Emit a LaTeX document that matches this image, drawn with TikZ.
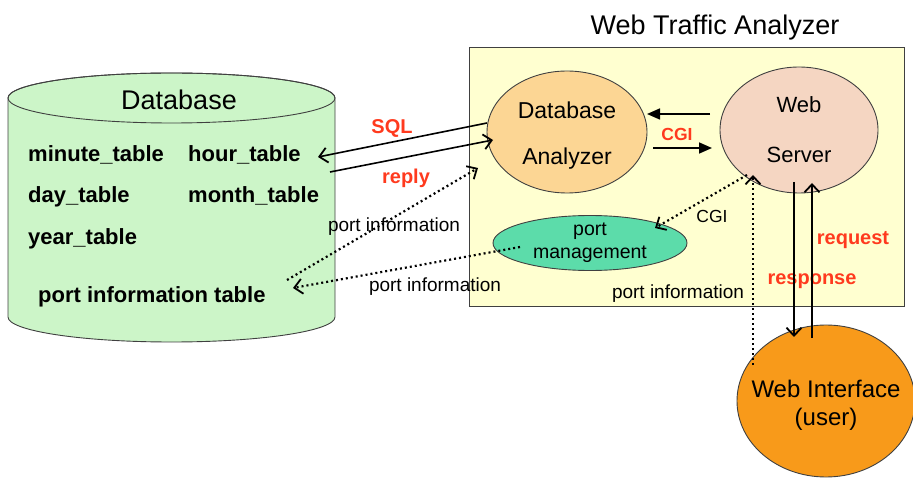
\documentclass[tikz,border=0pt]{standalone}
\usepackage{fontspec}
\setmainfont{Liberation Sans}
\usetikzlibrary{shapes.geometric,arrows.meta}
\definecolor{boxyellow}{RGB}{255,255,208}
\definecolor{dbgreen}{RGB}{204,245,200}
\definecolor{anaorange}{RGB}{252,214,148}
\definecolor{srvpeach}{RGB}{245,214,194}
\definecolor{pmgreen}{RGB}{92,220,170}
\definecolor{uiorange}{RGB}{248,154,26}
\definecolor{lblred}{RGB}{255,58,30}
\newcommand\fsz[2]{\fontsize{#1pt}{#2pt}\selectfont}

\begin{document}
\begin{tikzpicture}[x=1pt,y=-1pt,
  outline/.style={draw=black!75, line width=0.9pt},
  blob/.style={ellipse, outline, inner sep=0},
  txt/.style={inner sep=0, align=center},
  link/.style={line width=1.6pt, draw=black},
  dots/.style={line width=2.2pt, draw=black, dash pattern=on 2pt off 3pt},
  openhead/.style={-{Straight Barb[length=8pt,width=15pt,line width=1.8pt]}},
  fillhead/.style={-{Triangle[length=13pt,width=11pt]}},
  tbl/.style={anchor=base west, inner sep=0, font=\bfseries\fsz{22}{26}},
  redlbl/.style={anchor=base, inner sep=0, text=lblred, font=\bfseries\fsz{20}{24}},
  plbl/.style={anchor=base, inner sep=0, font=\fsz{19}{22}},
]
\useasboundingbox (0,0) rectangle (913,478);

% enclosing analyzer box and its title
\node[draw=black!75, line width=1pt, fill=boxyellow, minimum width=435pt,
      minimum height=259pt, anchor=north west, inner sep=0] (wta) at (469,47) {};
\node[anchor=base, inner sep=0, font=\fsz{27}{32}] (title) at (715,35) {Web Traffic Analyzer};

% database cylinder
\path[outline, fill=dbgreen] (8,98) -- (8,317)
  arc[start angle=180, end angle=360, x radius=163.5pt, y radius=25pt]
  -- (335,98)
  arc[start angle=0, end angle=180, x radius=163.5pt, y radius=25pt] -- cycle;
\draw[outline] (171.5,98) ellipse[x radius=163.5pt, y radius=25pt];
\node[anchor=base, inner sep=0, font=\fsz{27}{32}] (dbtitle) at (179,110) {Database};
\node[tbl] (minute) at (28,162) {minute\_table};
\node[tbl] (hour)   at (188,162) {hour\_table};
\node[tbl] (day)    at (28,203) {day\_table};
\node[tbl] (month)  at (188,203) {month\_table};
\node[tbl] (year)   at (28,245) {year\_table};
\node[tbl] (portinfo) at (38,303) {port information table};

% components
\node[blob, fill=anaorange, minimum width=160pt, minimum height=122pt] (ana) at (567,132) {};
\node[txt, font=\fsz{23}{46}] (anatext) at (567,136) {Database\\Analyzer};
\node[blob, fill=srvpeach, minimum width=158pt, minimum height=126pt] (srv) at (799,130) {};
\node[txt, font=\fsz{22}{50}] (srvtext) at (799,130) {Web\\Server};
\node[blob, fill=pmgreen, minimum width=194pt, minimum height=55pt] (pm) at (590,243) {};
\node[txt, font=\fsz{19.5}{23}] (pmtext) at (590,243) {port\\management};
\node[blob, fill=uiorange, minimum width=178pt, minimum height=152pt] (ui) at (826,401) {};
\node[txt, font=\fsz{24}{28}] (uitext) at (826,405) {Web Interface\\(user)};

% connector end points
\coordinate (sqlS) at (487,123);  \coordinate (sqlE) at (318,157);
\coordinate (repS) at (330,172);  \coordinate (repE) at (493,140);
\coordinate (cgiTS) at (710,114); \coordinate (cgiTE) at (647,114);
\coordinate (cgiBS) at (653,148); \coordinate (cgiBE) at (712,148);
\coordinate (cgiPS) at (747,175); \coordinate (cgiPE) at (655,228);
\coordinate (pmS) at (520,247);   \coordinate (pmE) at (293,288);
\coordinate (ptS) at (287,280);   \coordinate (ptE) at (478,168);
\coordinate (uiS) at (753,365);   \coordinate (uiE) at (753,175);
\coordinate (rspS) at (794,182);  \coordinate (rspE) at (794,337);
\coordinate (reqS) at (812,338);  \coordinate (reqE) at (812,183);

% connectors
\draw[link, openhead] (sqlS) -- (sqlE);
\draw[link, openhead] (repS) -- (repE);
\draw[link, fillhead] (cgiTS) -- (cgiTE);
\draw[link, fillhead] (cgiBS) -- (cgiBE);
\draw[dots, openhead] (cgiPS) -- (cgiPE);
\draw[dots, openhead] (pmS) -- (pmE);
\draw[dots, openhead] (ptS) -- (ptE);
\draw[dots, openhead] (uiS) -- (uiE);

% labels
\node[redlbl] (sql) at (392,134) {SQL};
\node[redlbl] (reply) at (406,184) {reply};
\node[redlbl, font=\bfseries\fsz{17.5}{21}] (cgired) at (677,141) {CGI};
\node[plbl, font=\fsz{17.5}{21}] (cgiblk) at (712,223) {CGI};
\node[plbl] (pinfoA) at (394,232) {port information};
\node[plbl] (pinfoB) at (435,292) {port information};
\node[plbl] (pinfoC) at (678,299) {port information};
\node[redlbl] (request) at (853,245) {request};
\node[redlbl] (response) at (812,285) {response};

% request / response lines run over their labels
\draw[link, openhead] (rspS) -- (rspE);
\draw[link, openhead] (reqS) -- (reqE);
\end{tikzpicture}
\end{document}
